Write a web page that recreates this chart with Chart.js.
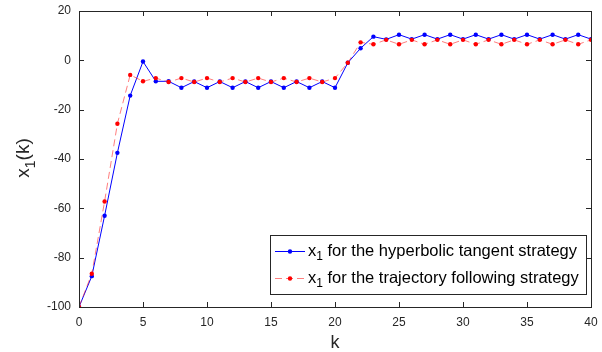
<!DOCTYPE html>
<html>
<head>
<meta charset="utf-8">
<script src="https://cdn.jsdelivr.net/npm/chart.js@4"></script>
<style>
    html, body { margin: 0; padding: 0; background: #fff; }
    #wrap { width: 602px; height: 352px; }
</style>
</head>
<body>
<div id="wrap"><canvas id="chart" width="602" height="352"></canvas></div>
<script>
const kValues = [0, 1, 2, 3, 4, 5, 6, 7, 8, 9, 10, 11, 12, 13, 14, 15, 16, 17, 18, 19, 20,
    21, 22, 23, 24, 25, 26, 27, 28, 29, 30, 31, 32, 33, 34, 35, 36, 37, 38, 39, 40];

// x1 for the hyperbolic tangent strategy
const tanhSeries = [-100, -87.5, -63, -37.5, -14.3, -0.5, -8.5, -8.5, -11.1, -8.6, -11.1, -8.6, -11.1, -8.6, -11.1, -8.6, -11.1, -8.6, -11.1, -8.6, -11.1,
    -1, 4.9, 9.6, 8.5, 10.4, 8.6, 10.4, 8.6, 10.4, 8.6, 10.4, 8.6, 10.4, 8.6, 10.4, 8.6, 10.4, 8.6, 10.4, 8.6];

// x1 for the trajectory following strategy
const trajSeries = [-100, -86.5, -57.2, -25.7, -5.9, -8.5, -7.2, -8.8, -7.2, -8.8, -7.2, -8.8, -7.2, -8.8, -7.2, -8.8, -7.2, -8.8, -7.2, -8.8, -7.2,
    -1, 7.3, 6.5, 8.3, 6.5, 8.3, 6.5, 8.3, 6.5, 8.3, 6.5, 8.3, 6.5, 8.3, 6.5, 8.3, 6.5, 8.3, 6.5, 8.3];

const xTicks = [0, 5, 10, 15, 20, 25, 30, 35, 40];
const yTicks = [-100, -80, -60, -40, -20, 0, 20];

const legendLabels = ['for the hyperbolic tangent strategy', 'for the trajectory following strategy'];

const axisColor = '#262626';
const fontName = '"Liberation Sans", Arial, sans-serif';

function toPoints(ys) {
    return kValues.map((k, i) => ({ x: k, y: ys[i] }));
}

// draw "x" with subscript "1" followed by rest
function drawX1(ctx, x, y, size, rest) {
    ctx.font = size + 'px ' + fontName;
    ctx.fillText('x', x, y);
    let w = ctx.measureText('x').width;
    const sub = Math.round(size * 0.72);
    ctx.font = sub + 'px ' + fontName;
    ctx.fillText('1', x + w, y + size * 0.36);
    w += ctx.measureText('1').width;
    ctx.font = size + 'px ' + fontName;
    ctx.fillText(rest, x + w, y);
    w += ctx.measureText(rest).width;
    return w;
}

function measureX1(ctx, size, rest) {
    ctx.font = size + 'px ' + fontName;
    let w = ctx.measureText('x').width + ctx.measureText(rest).width;
    ctx.font = Math.round(size * 0.72) + 'px ' + fontName;
    w += ctx.measureText('1').width;
    return w;
}

const matlabAxes = {
    id: 'matlabAxes',
    afterDraw(chart) {
        const ctx = chart.ctx;
        const a = chart.chartArea;
        const xs = chart.scales.x;
        const ys = chart.scales.y;
        ctx.save();
        ctx.strokeStyle = axisColor;
        ctx.lineWidth = 1;
        ctx.strokeRect(Math.round(a.left) + 0.5, Math.round(a.top) + 0.5,
            Math.round(a.right - a.left), Math.round(a.bottom - a.top));

        const tl = 5;
        ctx.beginPath();
        xTicks.forEach(v => {
            const px = Math.round(xs.getPixelForValue(v)) + 0.5;
            ctx.moveTo(px, a.bottom);
            ctx.lineTo(px, a.bottom - tl);
            ctx.moveTo(px, a.top);
            ctx.lineTo(px, a.top + tl);
        });
        yTicks.forEach(v => {
            const py = Math.round(ys.getPixelForValue(v)) + 0.5;
            ctx.moveTo(a.left, py);
            ctx.lineTo(a.left + tl, py);
            ctx.moveTo(a.right, py);
            ctx.lineTo(a.right - tl, py);
        });
        ctx.stroke();

        // axis titles
        ctx.fillStyle = axisColor;
        ctx.textBaseline = 'middle';
        ctx.textAlign = 'center';
        ctx.font = '18px ' + fontName;
        ctx.fillText('k', (a.left + a.right) / 2, 343);

        ctx.save();
        ctx.translate(24, 158);
        ctx.rotate(-Math.PI / 2);
        ctx.textAlign = 'left';
        const tw = measureX1(ctx, 19, '(k)');
        drawX1(ctx, -tw / 2, 0, 19, '(k)');
        ctx.restore();

        // legend box
        const bx = 270, by = 235, bw = 316, bh = 59;
        ctx.fillStyle = '#fff';
        ctx.fillRect(bx, by, bw, bh);
        ctx.strokeStyle = axisColor;
        ctx.strokeRect(bx + 0.5, by + 0.5, bw, bh);

        const rows = [251, 278];
        chart.data.datasets.forEach((ds, i) => {
            const ry = rows[i];
            ctx.save();
            ctx.strokeStyle = ds.borderColor;
            ctx.lineWidth = ds.borderWidth;
            ctx.setLineDash(ds.borderDash || []);
            ctx.beginPath();
            ctx.moveTo(275, ry + 0.5);
            ctx.lineTo(305, ry + 0.5);
            ctx.stroke();
            ctx.setLineDash([]);
            ctx.fillStyle = ds.pointBackgroundColor;
            ctx.beginPath();
            ctx.arc(290, ry + 0.5, ds.pointRadius, 0, Math.PI * 2);
            ctx.fill();
            ctx.restore();
            ctx.fillStyle = '#000';
            ctx.textAlign = 'left';
            ctx.textBaseline = 'middle';
            drawX1(ctx, 308, ry, 16.5, ' ' + legendLabels[i]);
        });
        ctx.restore();
    }
};

const ctx = document.getElementById('chart').getContext('2d');

const chart = new Chart(ctx, {
    type: 'line',
    data: {
        datasets: [
            {
                label: 'x1 ' + legendLabels[0],
                data: toPoints(tanhSeries),
                borderColor: '#0000ff',
                backgroundColor: '#0000ff',
                pointBackgroundColor: '#0000ff',
                borderWidth: 1,
                pointRadius: 2.2,
                pointBorderWidth: 0,
                tension: 0,
                order: 1
            },
            {
                label: 'x1 ' + legendLabels[1],
                data: toPoints(trajSeries),
                borderColor: 'rgba(255, 40, 40, 0.6)',
                backgroundColor: '#ff0000',
                pointBackgroundColor: '#ff0000',
                borderWidth: 1,
                borderDash: [7, 4],
                pointRadius: 2.2,
                pointBorderWidth: 0,
                tension: 0,
                order: 0
            }
        ]
    },
    options: {
        responsive: false,
        animation: false,
        layout: {
            padding: { top: 11, right: 11, left: 0, bottom: 0 }
        },
        plugins: {
            legend: { display: false },
            tooltip: { enabled: false }
        },
        scales: {
            x: {
                type: 'linear',
                min: 0,
                max: 40,
                afterFit: function (scale) {
                    scale.height = 45;
                    scale.paddingLeft = 0;
                    scale.paddingRight = 0;
                },
                afterBuildTicks: function (scale) { scale.ticks = xTicks.map(v => ({ value: v })); },
                grid: { display: false, drawTicks: false },
                border: { display: false },
                ticks: {
                    color: axisColor,
                    padding: 8,
                    maxRotation: 0,
                    font: { family: fontName, size: 12 }
                }
            },
            y: {
                min: -100,
                max: 20,
                afterFit: function (scale) {
                    scale.width = 79;
                    scale.paddingTop = 0;
                    scale.paddingBottom = 0;
                },
                afterBuildTicks: function (scale) { scale.ticks = yTicks.map(v => ({ value: v })); },
                grid: { display: false, drawTicks: false },
                border: { display: false },
                ticks: {
                    color: axisColor,
                    padding: 8,
                    font: { family: fontName, size: 12 }
                }
            }
        }
    },
    plugins: [matlabAxes]
});
</script>
</body>
</html>
